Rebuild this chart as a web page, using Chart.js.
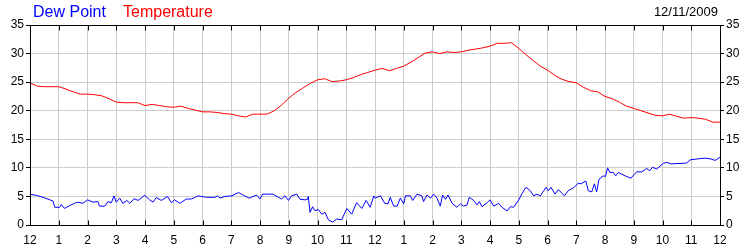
<!DOCTYPE html>
<html>
<head>
<meta charset="utf-8">
<script src="https://cdn.jsdelivr.net/npm/chart.js@4.4.0/dist/chart.umd.min.js"></script>
<style>
  body { margin: 0; background: #fff; }
  #wrap { position: relative; width: 750px; height: 250px; font-family: "Liberation Sans", Arial, sans-serif; }
  .lbl { position: absolute; white-space: nowrap; }
</style>
</head>
<body>
<div id="wrap">
  <canvas id="chart"></canvas>
  <div class="lbl" style="left:33px;top:2px;font-size:16px;line-height:20px;color:#0000ff">Dew Point</div>
  <div class="lbl" style="left:123px;top:2px;font-size:16px;line-height:20px;color:#ff0000">Temperature</div>
  <div class="lbl" style="right:32px;top:4px;font-size:13px;line-height:16px;color:#000">12/11/2009</div>
</div>
<script>
// Dados
const hourLabels = ["12", "1", "2", "3", "4", "5", "6", "7", "8", "9", "10", "11",
  "12", "1", "2", "3", "4", "5", "6", "7", "8", "9", "10", "11", "12"];
const yTicks = [0, 5, 10, 15, 20, 25, 30, 35];

// temperatura a cada 15 min
const tempValues = [
  24.9, 24.3, 24.2, 24.2, 24.2, 23.8, 23.3, 22.9, 22.9, 22.8, 22.6, 22.1, 21.5, 21.4, 21.4, 21.4,
  20.9, 21.1, 20.9, 20.7, 20.6, 20.8, 20.4, 20.1, 19.8, 19.8, 19.7, 19.5, 19.4, 19.1, 18.9, 19.4,
  19.4, 19.4, 20.0, 21.0, 22.2, 23.2, 24.0, 24.8, 25.4, 25.6, 25.1, 25.2, 25.4, 25.8, 26.3, 26.7,
  27.1, 27.4, 27.0, 27.4, 27.8, 28.5, 29.3, 30.1, 30.3, 30.0, 30.3, 30.2, 30.3, 30.6, 30.8, 31.0,
  31.3, 31.8, 31.8, 31.9, 30.9, 29.8, 28.8, 27.8, 27.1, 26.2, 25.5, 25.1, 24.9, 24.1, 23.5, 23.3,
  22.5, 22.1, 21.5, 20.8, 20.4, 20.0, 19.6, 19.2, 19.1, 19.4, 19.0, 18.7, 18.8, 18.7, 18.5, 18.0,
  18.0
];
const tempHours = tempValues.map((_, i) => i * 0.25);

const dewHours = [
  0, 0.22, 0.45, 0.8, 0.86, 1.03, 1.09, 1.2, 1.38, 1.55, 1.67, 1.84, 2.0, 2.19, 2.36, 2.42,
  2.6, 2.71, 2.83, 2.92, 3.0, 3.12, 3.23, 3.37, 3.47, 3.62, 3.76, 3.99, 4.16, 4.28, 4.39, 4.57,
  4.78, 4.92, 5.03, 5.21, 5.44, 5.61, 5.73, 5.84, 5.96, 6.14, 6.43, 6.52, 6.61, 6.78, 7.02, 7.25,
  7.42, 7.63, 7.88, 8.0, 8.09, 8.46, 8.64, 8.75, 8.87, 8.99, 9.1, 9.28, 9.39, 9.57, 9.65, 9.68,
  9.74, 9.83, 9.91, 10.03, 10.15, 10.26, 10.38, 10.53, 10.67, 10.84, 11.02, 11.19, 11.36, 11.54, 11.69, 11.83,
  11.96, 12.01, 12.19, 12.34, 12.45, 12.53, 12.65, 12.77, 12.88, 13.0, 13.06, 13.23, 13.31, 13.46, 13.63, 13.69,
  13.81, 13.93, 14.04, 14.16, 14.27, 14.35, 14.45, 14.54, 14.68, 14.85, 14.97, 15.08, 15.2, 15.28, 15.43, 15.55,
  15.63, 15.72, 15.9, 16.0, 16.13, 16.3, 16.42, 16.59, 16.71, 16.82, 17.0, 17.1, 17.25, 17.4, 17.52, 17.63,
  17.75, 17.87, 17.95, 18.03, 18.12, 18.26, 18.38, 18.59, 18.72, 18.9, 19.07, 19.17, 19.33, 19.42, 19.54, 19.63,
  19.71, 19.79, 19.94, 20.02, 20.09, 20.17, 20.29, 20.37, 20.46, 20.7, 20.9, 21.1, 21.28, 21.45, 21.56, 21.65,
  21.8, 22.03, 22.15, 22.3, 22.72, 22.84, 22.96, 23.19, 23.48, 23.69, 23.83, 24.0
];
const dewValues = [
  5.37, 5.2, 4.85, 4.2, 3.1, 3.1, 3.6, 2.9, 3.4, 3.8, 4.0, 3.8, 4.4, 4.0, 4.1, 3.3,
  3.3, 4.1, 3.9, 5.1, 4.0, 4.7, 3.8, 4.3, 3.8, 4.6, 4.3, 5.2, 4.4, 4.0, 4.8, 4.3,
  5.0, 3.9, 4.4, 3.8, 4.55, 4.55, 4.8, 5.1, 5.0, 4.85, 4.85, 5.1, 4.7, 5.0, 5.1, 5.7,
  5.2, 4.7, 5.25, 4.55, 5.4, 5.4, 4.85, 4.55, 5.1, 4.3, 5.1, 5.4, 4.5, 4.4, 4.5, 5.0,
  2.2, 3.2, 2.5, 2.7, 1.9, 2.2, 0.9, 0.5, 1.05, 0.9, 2.9, 1.9, 3.9, 2.9, 4.3, 3.1,
  5.1, 4.7, 5.1, 3.8, 3.7, 4.85, 3.3, 3.3, 4.7, 3.7, 5.1, 5.1, 4.3, 5.4, 5.1, 4.1,
  5.25, 4.7, 5.4, 4.7, 3.3, 5.25, 4.5, 5.25, 3.8, 3.1, 3.7, 3.3, 3.5, 4.85, 4.3, 3.5,
  4.1, 3.2, 3.9, 4.4, 3.3, 3.8, 3.1, 2.45, 3.2, 3.1, 4.4, 5.4, 6.6, 6.0, 5.1, 5.4,
  5.1, 6.0, 6.6, 6.0, 6.6, 5.4, 6.2, 5.1, 6.0, 6.5, 7.3, 7.2, 7.7, 6.0, 5.8, 7.2,
  5.8, 8.0, 8.6, 8.5, 10.0, 9.2, 9.2, 8.6, 9.2, 8.6, 8.2, 9.3, 9.3, 9.9, 9.5, 10.1,
  9.8, 10.8, 10.95, 10.7, 10.8, 10.85, 11.4, 11.55, 11.7, 11.55, 11.3, 11.85
];

const pairs = (xs, ys) => xs.map((x, i) => ({ x: x, y: ys[i] }));

// moldura e marcas internas do eixo x
const frameTicks = {
  id: "frameTicks",
  afterDraw(chart) {
    const ctx = chart.ctx;
    const a = chart.chartArea;
    const xs = chart.scales.x;
    ctx.save();
    ctx.strokeStyle = "#000";
    ctx.lineWidth = 1;
    const l = Math.round(a.left) + 0.5, r = Math.round(a.right) + 0.5;
    const t = Math.round(a.top) + 0.5, b = Math.round(a.bottom) + 0.5;
    ctx.strokeRect(l, t, r - l, b - t);
    ctx.beginPath();
    for (let h = 0; h < hourLabels.length; h++) {
      const px = Math.round(xs.getPixelForValue(h)) + 0.5;
      ctx.moveTo(px, b);
      ctx.lineTo(px, b - 5);
      ctx.moveTo(px, t);
      ctx.lineTo(px, t + 5);
    }
    ctx.stroke();
    ctx.restore();
  },
};

const tickFont = { family: "'Liberation Sans', Arial, sans-serif", size: 12 };

new Chart(document.getElementById("chart"), {
  type: "line",
  data: {
    datasets: [
      {
        label: "Dew Point",
        data: pairs(dewHours, dewValues),
        borderColor: "#0000ff",
        borderWidth: 1,
        pointRadius: 0,
        tension: 0,
        yAxisID: "y",
      },
      {
        label: "Temperature",
        data: pairs(tempHours, tempValues),
        borderColor: "#ff0000",
        borderWidth: 1,
        pointRadius: 0,
        tension: 0,
        yAxisID: "y",
      },
    ],
  },
  options: {
    responsive: true,
    maintainAspectRatio: false,
    animation: false,
    layout: { padding: { top: 25, left: 0, right: 0, bottom: 0 } },
    plugins: {
      legend: { display: false },
      tooltip: { enabled: false },
    },
    scales: {
      x: {
        type: "linear",
        min: 0,
        max: 24,
        afterBuildTicks: (s) => { s.ticks = hourLabels.map((_, i) => ({ value: i })); },
        afterFit: (s) => { s.height = 25; },
        grid: { color: "#cccccc", drawTicks: false },
        border: { display: false },
        ticks: {
          font: tickFont,
          color: "#000",
          padding: 8,
          maxRotation: 0,
          autoSkip: false,
          callback: (v) => hourLabels[v],
        },
      },
      y: {
        position: "left",
        min: 0,
        max: 35,
        afterBuildTicks: (s) => { s.ticks = yTicks.map((v) => ({ value: v })); },
        afterFit: (s) => { s.width = 30; },
        grid: { color: "#cccccc", tickColor: "#000", tickLength: 4 },
        border: { display: false },
        ticks: { font: tickFont, color: "#000", padding: 2 },
      },
      y1: {
        position: "right",
        min: 0,
        max: 35,
        afterBuildTicks: (s) => { s.ticks = yTicks.map((v) => ({ value: v })); },
        afterFit: (s) => { s.width = 30; },
        grid: { drawOnChartArea: false, tickColor: "#000", tickLength: 4 },
        border: { display: false },
        ticks: { font: tickFont, color: "#000", padding: 2 },
      },
    },
  },
  plugins: [frameTicks],
});
</script>
</body>
</html>
